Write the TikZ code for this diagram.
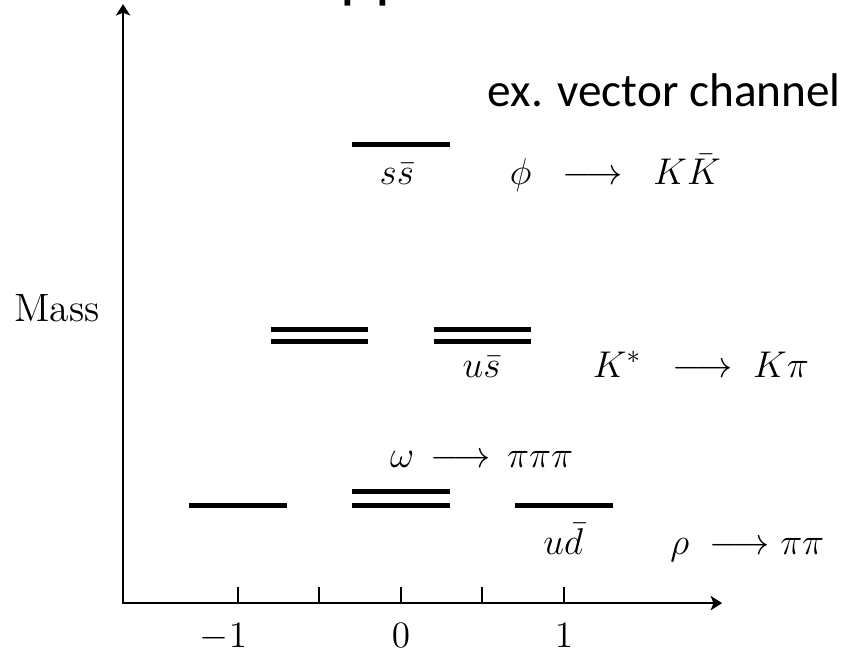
\RequirePackage{fix-cm}
\documentclass[tikz,border=0pt]{standalone}
\usepackage{fontspec}
\newfontfamily\calibri{Carlito}
\usetikzlibrary{arrows.meta, positioning}

\begin{document}
\begin{tikzpicture}[
    font=\fontsize{13}{16}\selectfont,
    axis/.style={line width=0.7pt, {Stealth[length=4pt,width=5pt,inset=1pt]}-{Stealth[length=4pt,width=5pt,inset=1pt]}},
    tickmark/.style={line width=0.7pt},
    lvl/.style={line width=1.6pt},
    lbl/.style={inner sep=0pt, anchor=base}
]
\useasboundingbox (-4.92,-0.60) rectangle (5.46,7.40);
% axes
\coordinate (ytip) at (-3.41,7.35);
\coordinate (xtip) at (3.94,0);
\draw[axis] (ytip) |- (xtip);
\foreach \x in {-2,...,2} \draw[tickmark] (\x,0) -- ++(0,0.2);
\node[lbl] (tm1) at (-2,-0.54) {$\llap{$-$}1$};
\node[lbl] (t0) at (0,-0.54) {$0$};
\node[lbl] (tp1) at (2,-0.54) {$1$};
\node[lbl, anchor=base east, font=\fontsize{13.8}{16}\selectfont] (mass) at (-3.69,3.45) {Mass};
% levels
\draw[lvl] (-0.6,5.63) -- ++(1.2,0);
\foreach \y in {3.21,3.36} {
  \draw[lvl] (-1.6,\y) -- ++(1.2,0);
  \draw[lvl] (0.4,\y) -- ++(1.2,0);
}
\draw[lvl] (-2.6,1.20) -- ++(1.2,0);
\draw[lvl] (1.4,1.20) -- ++(1.2,0);
\foreach \y in {1.20,1.37} \draw[lvl] (-0.6,\y) -- ++(1.2,0);
% labels
\node[lbl] (ss) at (-0.05,5.13) {$s\bar{s}$};
\node[lbl] (phi) at (2.63,5.13) {$\phi\;\;\longrightarrow\;\;K\bar{K}$};
\node[lbl] (us) at (0.99,2.77) {$u\bar{s}$};
\node[lbl] (kstar) at (3.68,2.77) {$K^*\;\;\longrightarrow\;K\pi$};
\node[lbl] (omega) at (0.99,1.66) {$\omega\,\longrightarrow\,\pi\pi\pi$};
\node[lbl] (ud) at (1.99,0.60) {$u\bar{d}$};
\node[lbl] (rho) at (4.25,0.60) {$\rho\;\longrightarrow\pi\pi$};
\node[lbl, anchor=base west] (chan) at (1.06,6.09) {\calibri\fontsize{16.5}{20}\selectfont ex. vector channel};
\node[lbl, anchor=base west] (ttl) at (-0.75,7.46) {\calibri\fontsize{23}{28}\selectfont pp};
\end{tikzpicture}
\end{document}
